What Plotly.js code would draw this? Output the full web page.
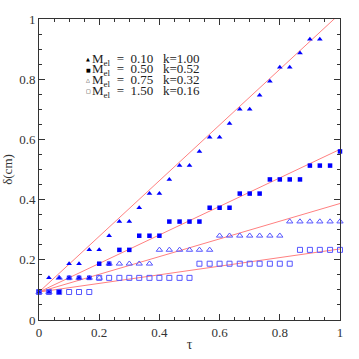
<!DOCTYPE html>
<html><head><meta charset="utf-8">
<script src="https://cdn.plot.ly/plotly-3.0.1.min.js"></script>
<style>html,body{margin:0;padding:0;background:#fff}#c{width:359px;height:359px}</style>
</head><body><div id="c"></div>
<script>
const tau = [0,0.033,0.067,0.1,0.133,0.167,0.2,0.233,0.267,0.3,0.333,0.367,0.4,0.433,0.467,0.5,0.533,0.567,0.6,0.633,0.667,0.7,0.733,0.767,0.8,0.833,0.867,0.9,0.933,0.967,1.0];
// M_el = 0.10, k = 1.00 (filled triangles)
const deltaA = [0.093,0.14,0.14,0.187,0.187,0.233,0.233,0.28,0.327,0.327,0.373,0.42,0.42,0.467,0.513,0.513,0.56,0.607,0.607,0.653,0.70,0.70,0.747,0.793,0.84,0.84,0.887,0.933,0.933];
// M_el = 0.50, k = 0.52 (filled squares)
const deltaB = [0.093,0.093,0.093,0.14,0.14,0.14,0.187,0.187,0.233,0.233,0.28,0.28,0.28,0.327,0.327,0.327,0.327,0.373,0.373,0.373,0.42,0.42,0.42,0.467,0.467,0.467,0.467,0.513,0.513,0.513,0.56];
// M_el = 0.75, k = 0.32 (open triangles)
const deltaC = [0.093,0.093,0.14,0.14,0.14,0.14,0.14,0.187,0.187,0.187,0.187,0.187,0.233,0.233,0.233,0.233,0.233,0.233,0.28,0.28,0.28,0.28,0.28,0.28,0.28,0.327,0.327,0.327,0.327,0.327,0.327];
// M_el = 1.50, k = 0.16 (open squares)
const deltaD = [0.093,0.093,0.093,0.093,0.093,0.093,0.14,0.14,0.14,0.14,0.14,0.14,0.14,0.14,0.14,0.14,0.187,0.187,0.187,0.187,0.187,0.187,0.187,0.187,0.187,0.187,0.233,0.233,0.233,0.233,0.233];
// linear fits delta = delta0 + slope * tau
const fitTau = [0, 1];
const fitDelta0 = 0.093;
const fitSlope = [0.925, 0.474, 0.294, 0.143];
const mElLabels = ['0.10','0.50','0.75','1.50'];
const kLabels = ['1.00','0.52','0.32','0.16'];
const legendSymbols = ['\u25B2','\u25A0','\u25B3','\u25A1'];

const traces = [];
fitSlope.forEach(s => {
  traces.push({x: fitTau, y: fitTau.map(t => fitDelta0 + s*t), mode:'lines',
    line:{color:'#ff8080', width:1}, hoverinfo:'skip', showlegend:false});
});
const series = [
  {y: deltaA, sym:'triangle-up', size:5, fill:true},
  {y: deltaB, sym:'square', size:4.5, fill:true},
  {y: deltaC, sym:'triangle-up-open', size:5.5, fill:false},
  {y: deltaD, sym:'square-open', size:5, fill:false}
];
series.forEach(s => {
  traces.push({x: tau.slice(0, s.y.length), y: s.y, mode:'markers', showlegend:false, cliponaxis:false,
    marker:{symbol:s.sym, size:s.size, color: s.fill ? '#0000ff' : '#5555ff',
      line:{width: s.fill ? 0 : 1, color:'#5555ff'}}});
});

const fnt = {family:'Liberation Serif, DejaVu Serif, serif', size:13, color:'#333'};
const annotations = [];
const ys = [0.866, 0.831, 0.796, 0.760];
for (let i = 0; i < 4; i++) {
  annotations.push({xref:'x', yref:'y', x:0.163, y:ys[i], text:legendSymbols[i], showarrow:false,
    xanchor:'center', yanchor:'middle', font:{family:'DejaVu Sans', size:5, color:'#000'}});
  annotations.push({xref:'x', yref:'y', x:0.170, y:ys[i], showarrow:false, xanchor:'left', yanchor:'middle',
    text:'M<sub>el</sub>\u00a0\u00a0=\u00a0\u00a0' + mElLabels[i] + '\u00a0\u00a0\u00a0k=' + kLabels[i],
    font:{family:'Liberation Serif, serif', size:13, color:'#222'}});
}

const axisCommon = {range:[0,1], autorange:false, showgrid:false, zeroline:false, showline:true, linecolor:'#333', linewidth:1,
  mirror:'allticks', ticks:'inside', ticklen:6, tickcolor:'#333', dtick:0.2, tick0:0, tickfont:fnt,
  minor:{dtick:0.05, ticks:'inside', ticklen:3, tickcolor:'#333'}};

const layout = {
  width:359, height:359, margin:{l:39, r:19, t:19, b:39},
  paper_bgcolor:'#fff', plot_bgcolor:'#fff',
  xaxis: Object.assign({}, axisCommon, {title:{text:'\u03C4', font:{family:'Liberation Serif, serif', size:14, color:'#333'}, standoff:0}}),
  yaxis: Object.assign({}, axisCommon, {title:{text:'\u03B4(cm)', font:{family:'Liberation Serif, serif', size:13, color:'#333'}, standoff:4}}),
  annotations: annotations,
  showlegend:false
};
Plotly.newPlot('c', traces, layout, {staticPlot:true, displayModeBar:false});
</script>
</body></html>
